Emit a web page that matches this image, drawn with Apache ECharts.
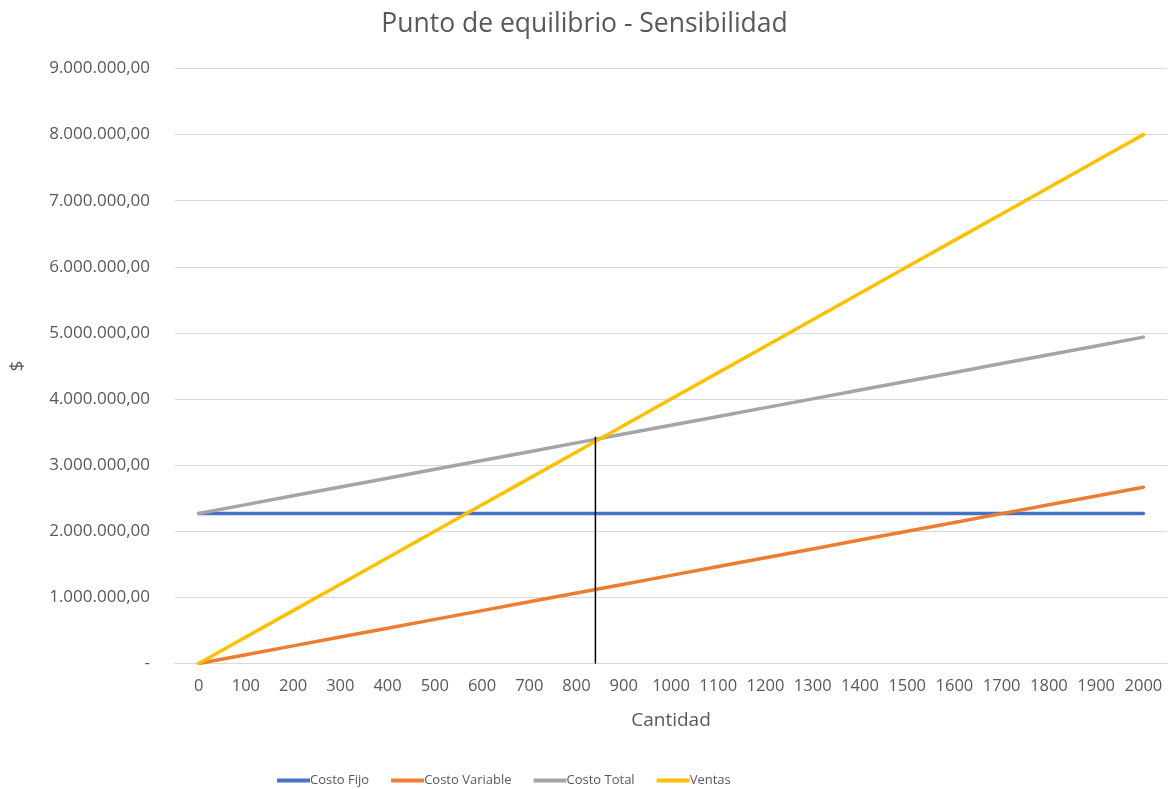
<!DOCTYPE html>
<html>
<head>
<meta charset="utf-8">
<title>Punto de equilibrio - Sensibilidad</title>
<script src="https://cdn.jsdelivr.net/npm/echarts@6/dist/echarts.min.js"></script>
<style>
  html, body { margin: 0; padding: 0; background: #fff; }
  #chart { width: 1169px; height: 789px; }
</style>
</head>
<body>
<div id="chart"></div>
<script>
// cantidades (eje X)
const cantidades = [0, 100, 200, 300, 400, 500, 600, 700, 800, 900, 1000,
  1100, 1200, 1300, 1400, 1500, 1600, 1700, 1800, 1900, 2000]

// valores
const costoFijo = [2270000, 2270000, 2270000, 2270000, 2270000, 2270000, 2270000,
  2270000, 2270000, 2270000, 2270000, 2270000, 2270000, 2270000, 2270000, 2270000,
  2270000, 2270000, 2270000, 2270000, 2270000]
const costoVariable = [0, 133000, 267000, 400000, 533000, 667000, 800000, 933000,
  1067000, 1200000, 1333000, 1467000, 1600000, 1733000, 1867000, 2000000,
  2133000, 2267000, 2400000, 2533000, 2667000]
const costoTotal = [2270000, 2403000, 2537000, 2670000, 2803000, 2937000, 3070000,
  3203000, 3337000, 3470000, 3603000, 3737000, 3870000, 4003000, 4137000, 4270000,
  4403000, 4537000, 4670000, 4803000, 4937000]
const ventas = [0, 400000, 800000, 1200000, 1600000, 2000000, 2400000, 2800000,
  3200000, 3600000, 4000000, 4400000, 4800000, 5200000, 5600000, 6000000,
  6400000, 6800000, 7200000, 7600000, 8000000]

// linea vertical del punto de equilibrio [cantidad, $]
const equilibrio = [[840, 0], [840, 3430000]]

const FONT = '"Open Sans", "Noto Sans", sans-serif'
const GRIS_TEXTO = '#595959'

// formato 9.000.000,00 ; cero como "-"
function formatoPeso (v) {
  if (v === 0) return '-'
  const entero = Math.round(v).toString().replace(/\B(?=(\d{3})+(?!\d))/g, '.')
  return entero + ',00'
}

const chart = echarts.init(document.getElementById('chart'))

const lineSeries = (name, data, color) => ({
  name: name,
  type: 'line',
  data: data,
  symbol: 'none',
  smooth: false,
  lineStyle: { width: 3.5, color: color, cap: 'round' },
  itemStyle: { color: color },
  emphasis: { disabled: true }
})

const option = {
  animation: false,
  textStyle: { fontFamily: FONT },
  title: {
    text: 'Punto de equilibrio - Sensibilidad',
    left: 'center',
    top: 6,
    textStyle: { fontFamily: FONT, fontSize: 26.5, fontWeight: 'normal', color: GRIS_TEXTO }
  },
  legend: {
    top: 769,
    left: 272,
    itemWidth: 33,
    itemHeight: 4,
    itemGap: 22,
    icon: 'rect',
    textStyle: { fontFamily: FONT, fontSize: 13, color: GRIS_TEXTO, padding: [0, 0, 0, -5] },
    data: ['Costo Fijo', 'Costo Variable', 'Costo Total', 'Ventas']
  },
  grid: {
    left: 173,
    right: 2,
    top: 68.5,
    bottom: 125.5
  },
  xAxis: [
    {
      type: 'category',
      data: cantidades,
      boundaryGap: true,
      name: 'Cantidad',
      nameLocation: 'middle',
      nameGap: 48,
      nameTextStyle: { fontFamily: FONT, fontSize: 19, color: GRIS_TEXTO },
      axisLine: { show: true, lineStyle: { color: '#D9D9D9' } },
      axisTick: { show: false },
      axisLabel: { fontFamily: FONT, fontSize: 16.5, color: GRIS_TEXTO, margin: 14, interval: 0 }
    },
    {
      type: 'value',
      min: -50,
      max: 2050,
      show: false
    }
  ],
  yAxis: {
    type: 'value',
    min: 0,
    max: 9000000,
    interval: 1000000,
    name: '$',
    nameLocation: 'middle',
    nameGap: 148,
    nameRotate: 90,
    nameTextStyle: { fontFamily: FONT, fontSize: 19, color: GRIS_TEXTO },
    axisLine: { show: false },
    axisTick: { show: false },
    splitLine: { lineStyle: { color: '#D9D9D9', width: 1 } },
    axisLabel: {
      fontFamily: FONT,
      fontSize: 17,
      color: GRIS_TEXTO,
      margin: 25,
      formatter: formatoPeso
    }
  },
  series: [
    lineSeries('Costo Fijo', costoFijo, '#4472C4'),
    lineSeries('Costo Variable', costoVariable, '#ED7D31'),
    lineSeries('Costo Total', costoTotal, '#A5A5A5'),
    lineSeries('Ventas', ventas, '#FFC000'),
    {
      name: 'Equilibrio',
      type: 'line',
      xAxisIndex: 1,
      data: equilibrio,
      symbol: 'none',
      lineStyle: { width: 1.5, color: '#000000' },
      emphasis: { disabled: true },
      z: 3
    }
  ]
}

chart.setOption(option)
</script>
</body>
</html>
